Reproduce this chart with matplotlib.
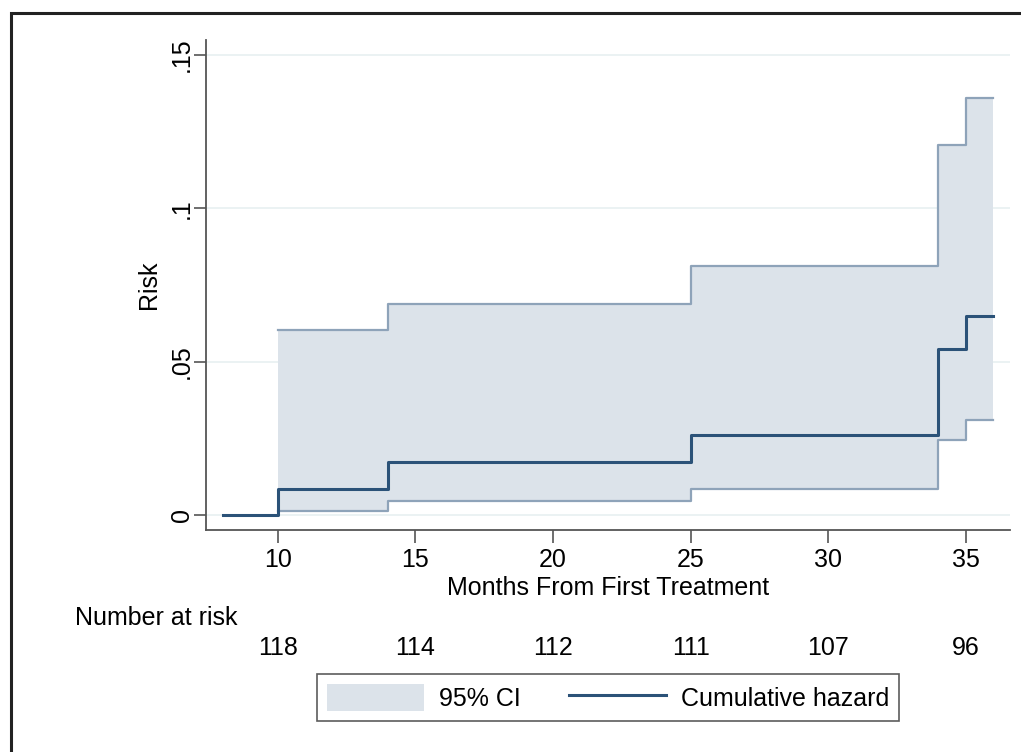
import matplotlib
matplotlib.use("Agg")
import matplotlib.pyplot as plt
from matplotlib.patches import Rectangle, Patch
from matplotlib.lines import Line2D

# step data
times = [8, 10, 14, 25, 34, 35, 36]
hazard = [0.0, 0.0085, 0.0174, 0.0262, 0.0541, 0.0648, 0.0648]
ci_low = [0.0, 0.0013, 0.0046, 0.0085, 0.0246, 0.0311, 0.0311]
ci_high = [0.0, 0.0602, 0.0688, 0.0812, 0.1208, 0.1359, 0.1359]

risk_times = [10, 15, 20, 25, 30, 35]
at_risk = [118, 114, 112, 111, 107, 96]

yticks = [0, 0.05, 0.1, 0.15]
ytick_labels = ["0", ".05", ".1", ".15"]

fill_col = "#dce3ea"
ci_col = "#8ea3b9"
haz_col = "#2b5278"

plt.rcParams["font.family"] = ["Liberation Sans", "DejaVu Sans"]
fs = 18

fig = plt.figure(figsize=(10.21, 7.52), dpi=100)
ax = fig.add_axes([206 / 1021, 1 - 530 / 752, (1010 - 206) / 1021, (530 - 40) / 752])

# ci band starts at first event time
ax.fill_between(times[1:], ci_low[1:], ci_high[1:], step="post", color=fill_col, lw=0)
ax.step(times[1:], ci_low[1:], where="post", color=ci_col, lw=1.6)
ax.step(times[1:], ci_high[1:], where="post", color=ci_col, lw=1.6)
ax.step(times, hazard, where="post", color=haz_col, lw=2.2)

ax.set_xlim(7.4, 36.6)
ax.set_ylim(-0.0049, 0.1549)
ax.set_xticks(risk_times)
ax.set_yticks(yticks)
ax.set_yticklabels(ytick_labels, rotation=90, va="center")
ax.tick_params(axis="both", labelsize=fs, length=9, width=1.2, color="#555555")
ax.tick_params(axis="x", pad=4)
ax.tick_params(axis="y", pad=0)
ax.grid(axis="y", color="#e8f0f1", lw=1.2)
ax.set_axisbelow(True)
for s in ["top", "right"]:
    ax.spines[s].set_visible(False)
for s in ["left", "bottom"]:
    ax.spines[s].set_color("#555555")
    ax.spines[s].set_linewidth(1.3)

ax.set_xlabel("Months From First Treatment", fontsize=fs, labelpad=3)
ax.set_ylabel("Risk", fontsize=fs, labelpad=6)

# number at risk table
fig.text(75 / 1021, 1 - 618 / 752, "Number at risk", fontsize=fs, ha="left", va="center")
for t, n in zip(risk_times, at_risk):
    xf = fig.transFigure.inverted().transform(ax.transData.transform((t, 0)))[0]
    fig.text(xf, 1 - 648 / 752, str(n), fontsize=fs, ha="center", va="center")

handles = [Patch(facecolor=fill_col, edgecolor="none"),
           Line2D([], [], color=haz_col, lw=2.2)]
leg = fig.legend(handles, ["95% CI", "Cumulative hazard"], ncol=2,
                 loc="center", bbox_to_anchor=(608 / 1021, 1 - 697.5 / 752),
                 fontsize=fs, frameon=True, fancybox=False,
                 handlelength=3.9, handleheight=1.3, columnspacing=1.9,
                 borderpad=0.4, handletextpad=0.6, borderaxespad=0)
leg.get_frame().set_edgecolor("#333333")
leg.get_frame().set_linewidth(1.2)

# outer frame of the graph region
fig.patches.append(Rectangle((11 / 1021, -0.1), 1.2, 1 - 13 / 752 + 0.1,
                             transform=fig.transFigure, fill=False,
                             edgecolor="#222222", lw=2.2))

fig.savefig("out.png", dpi=100)
